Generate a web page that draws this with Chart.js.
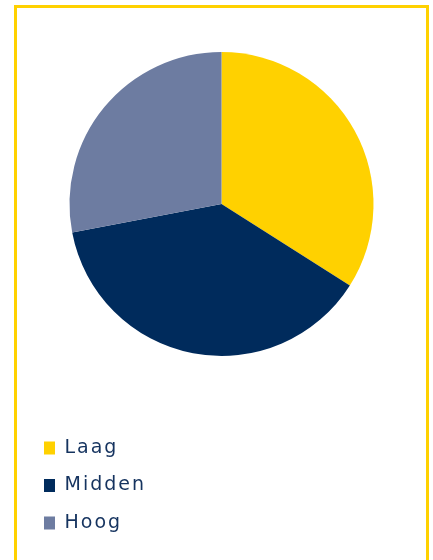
<!DOCTYPE html>
<html lang="nl">
<head>
<meta charset="UTF-8">
<title>Verdeling</title>
<script src="https://cdn.jsdelivr.net/npm/chart.js"></script>
<style>
  html, body { margin: 0; padding: 0; background: #fff; overflow: hidden; }
  .kader {
    position: absolute;
    left: 14px;
    top: 5px;
    width: 409px;
    height: 600px;
    border: 3px solid #ffd100;
  }
  .grafiek { position: relative; width: 409px; height: 552px; }
</style>
</head>
<body>
<div class="kader">
  <div class="grafiek"><canvas id="taartChart"></canvas></div>
</div>
<script>
// Gegevens
const labels = ['Laag', 'Midden', 'Hoog'];
const values = [34, 38, 28];
const colors = ['#ffd100', '#002b5c', '#6d7ca1'];

// Taart bovenin, horizontaal gecentreerd; legenda blijft linksonder
const pieLayout = {
  id: 'pieLayout',
  beforeLayout(chart) { chart.ctx.letterSpacing = '2px'; },
  beforeDraw(chart) { chart.ctx.letterSpacing = '2px'; },
  afterLayout(chart) {
    const area = chart.chartArea;
    area.left = 0;
    area.right = chart.width;
    area.top = 44;
    area.bottom = 348;
    area.width = area.right - area.left;
    area.height = area.bottom - area.top;
  }
};

new Chart(document.getElementById('taartChart'), {
  type: 'pie',
  data: {
    labels: labels,
    datasets: [{
      data: values,
      backgroundColor: colors,
      borderWidth: 0
    }]
  },
  options: {
    responsive: true,
    maintainAspectRatio: false,
    animation: false,
    layout: { padding: { left: 8.5, top: 0, right: 0, bottom: 9 } },
    plugins: {
      legend: {
        position: 'left',
        align: 'end',
        labels: {
          color: '#15335f',
          font: { family: '"DejaVu Sans", sans-serif', size: 19 },
          boxWidth: 11,
          boxHeight: 13,
          padding: 18.5
        }
      },
      tooltip: { enabled: false }
    }
  },
  plugins: [pieLayout]
});
</script>
</body>
</html>
